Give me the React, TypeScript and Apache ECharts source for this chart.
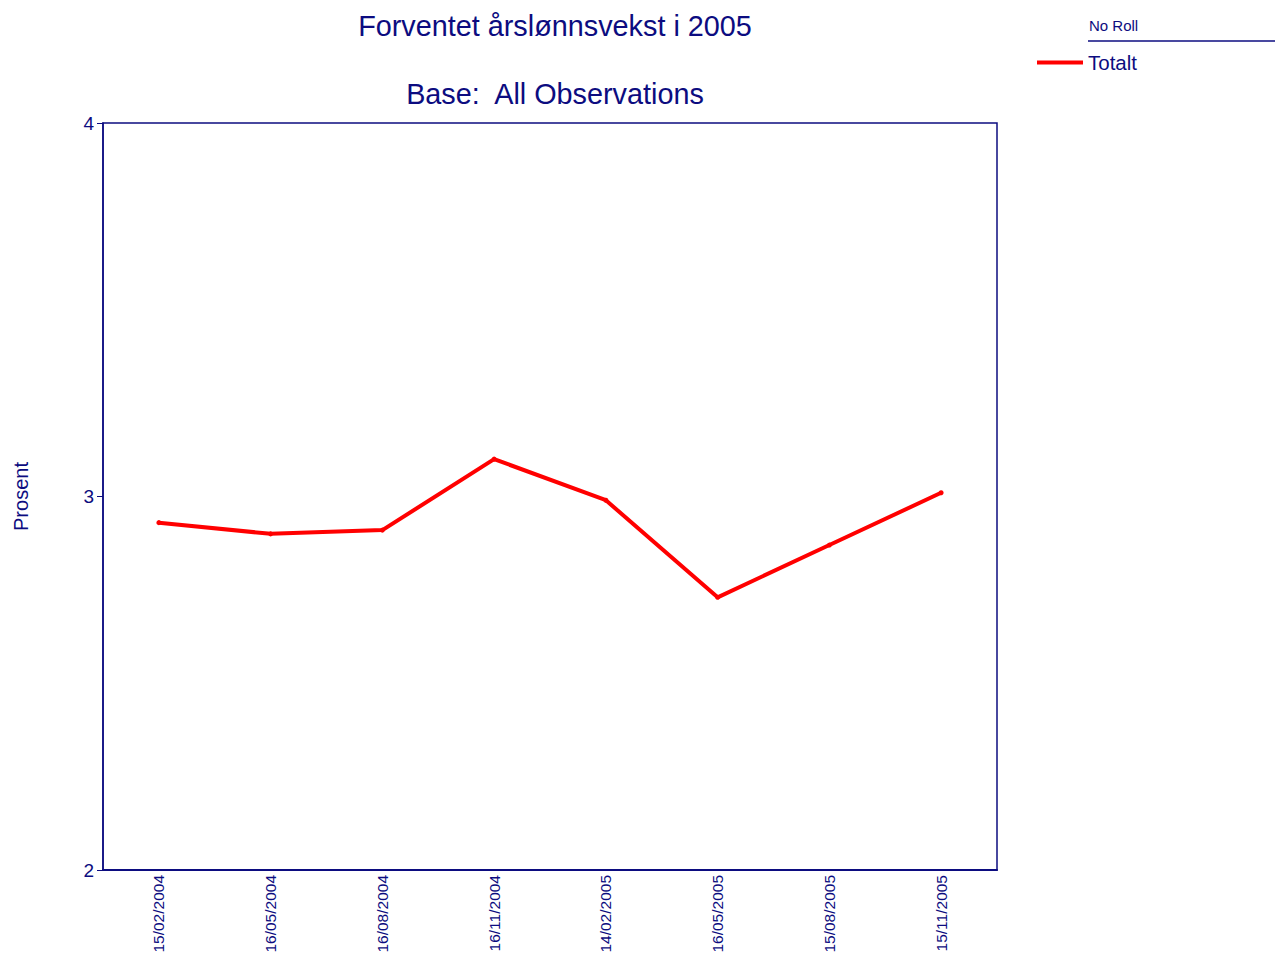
import React, { useEffect, useRef } from "react";
import * as echarts from "echarts";

const categories = [
  "15/02/2004",
  "16/05/2004",
  "16/08/2004",
  "16/11/2004",
  "14/02/2005",
  "16/05/2005",
  "15/08/2005",
  "15/11/2005",
];
const totaltValues = [2.93, 2.9, 2.91, 3.1, 2.99, 2.73, 2.87, 3.01];
const yTicks = { min: 2, max: 4, interval: 1 };

const NAVY = "#0c0c80";
const FONT = "'Liberation Sans', Arial, sans-serif";

export default function App() {
  const ref = useRef<HTMLDivElement>(null);
  useEffect(() => {
    document.body.style.margin = "0";
    if (!ref.current) return;
    const chart = echarts.init(ref.current, undefined, { renderer: "svg" });
    chart.setOption({
      animation: false,
      backgroundColor: "#ffffff",
      textStyle: { fontFamily: FONT },
      title: [
        {
          text: "Forventet årslønnsvekst i 2005",
          left: 550,
          top: 6,
          textAlign: "center",
          textStyle: { color: NAVY, fontSize: 28.8, fontWeight: "normal", fontFamily: FONT },
        },
        {
          text: "Base:  All Observations",
          left: 550,
          top: 74,
          textAlign: "center",
          textStyle: { color: NAVY, fontSize: 28.8, fontWeight: "normal", fontFamily: FONT },
        },
      ],
      legend: {
        left: 1032,
        top: 47,
        icon: "rect",
        itemWidth: 46,
        itemHeight: 4,
        data: ["Totalt"],
        textStyle: { color: NAVY, fontSize: 20.5, fontFamily: FONT, padding: [0, 0, 8, 0] },
      },
      graphic: [
        {
          type: "text",
          left: 1089,
          top: 18,
          style: { text: "No Roll", fill: NAVY, fontSize: 15, fontFamily: FONT },
        },
        {
          type: "line",
          shape: { x1: 1088, y1: 41, x2: 1275, y2: 41 },
          style: { stroke: NAVY, lineWidth: 1.5 },
        },
      ],
      grid: {
        left: 103,
        top: 123,
        right: 278,
        bottom: 86,
        containLabel: false,
        outerBoundsMode: "none",
        show: true,
        borderColor: NAVY,
        borderWidth: 1.5,
        backgroundColor: "#ffffff",
      },
      xAxis: {
        type: "category",
        data: categories,
        boundaryGap: true,
        axisLine: { lineStyle: { color: NAVY, width: 2 } },
        axisTick: { alignWithLabel: true, length: 6, lineStyle: { color: NAVY, width: 1 } },
        axisLabel: {
          rotate: 90,
          color: NAVY,
          fontSize: 15.5,
          fontFamily: FONT,
          margin: 5,
          interval: 0,
        },
      },
      yAxis: {
        type: "value",
        min: yTicks.min,
        max: yTicks.max,
        interval: yTicks.interval,
        name: "Prosent",
        nameLocation: "middle",
        nameRotate: 90,
        nameGap: 72,
        nameTextStyle: { color: NAVY, fontSize: 20, fontFamily: FONT },
        axisLine: { show: true, lineStyle: { color: NAVY, width: 1.5 } },
        axisTick: { show: true, length: 6, lineStyle: { color: NAVY } },
        axisLabel: { color: NAVY, fontSize: 19, fontFamily: FONT, margin: 9 },
        splitLine: { show: false },
      },
      series: [
        {
          name: "Totalt",
          type: "line",
          data: totaltValues,
          color: "#ff0000",
          symbol: "circle",
          symbolSize: 5,
          lineStyle: { color: "#ff0000", width: 4 },
          itemStyle: { color: "#ff0000" },
        },
      ],
    });
    return () => chart.dispose();
  }, []);
  return <div ref={ref} style={{ width: 1275, height: 956 }} />;
}
